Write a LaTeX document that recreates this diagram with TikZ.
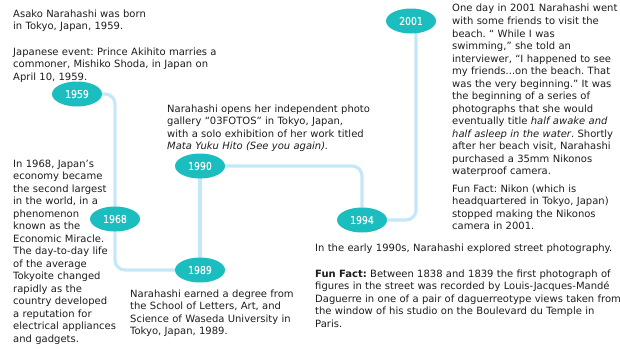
\documentclass[tikz,border=0pt]{standalone}
\usepackage{fontspec}
\setmainfont{DejaVu Sans}
\newfontfamily\yearfont[FakeStretch=0.86,FakeBold=0.6]{DejaVu Sans}
\usetikzlibrary{shapes.geometric,backgrounds}
\definecolor{tealyear}{RGB}{27,189,190}
\definecolor{lineblue}{RGB}{196,232,248}
\definecolor{txt}{RGB}{30,28,29}
\frenchspacing
\begin{document}
\begin{tikzpicture}[x=1pt,y=-1pt,
  year/.style={ellipse, fill=tealyear, minimum width=50pt, minimum height=25pt, inner sep=0pt, text=white, font=\yearfont\fontsize{10.8}{12}\selectfont},
  para/.style={anchor=base west, inner sep=0pt, align=left, text width=310pt, text=txt, font=\fontsize{10}{12.5}\selectfont},
  link/.style={draw=lineblue, line width=3.2pt, rounded corners=10pt}]
\useasboundingbox (0,0) rectangle (620,348);

% year ellipses
\node[year] (y1959) at (77,94) {1959};
\node[year] (y1968) at (115,219) {1968};
\node[year] (y1990) at (200,166) {1990};
\node[year] (y1989) at (200,270) {1989};
\node[year] (y1994) at (362,220) {1994};
\node[year] (y2001) at (411,21) {2001};
\coordinate (c2001) at ([xshift=5pt]y2001.center);

% connectors
\begin{pgfonlayer}{background}
\draw[link] (y1959.center) -| (y1968.center);
\draw[link] (y1968.center) |- (y1989.center);
\draw[link] (y1989.center) -- (y1990.center);
\draw[link] (y1990.center) -| (y1994.center);
\draw[link] (y1994.center) -| (c2001);
\end{pgfonlayer}

% texts
\node[para] (born) at (13,17) {Asako Narahashi was born\\in Tokyo, Japan, 1959.};
\node[para] (event) at (13,55) {Japanese event: Prince Akihito marries a\\commoner, Mishiko Shoda, in Japan on\\April 10, 1959.};
\node[para] (gallery) at (167,112) {Narahashi opens her independent photo\\gallery “03FOTOS” in Tokyo, Japan,\\with a solo exhibition of her work titled\\\textit{Mata Yuku Hito (See you again).}};
\node[para] (econ) at (13,167) {In 1968, Japan’s\\economy became\\the second largest\\in the world, in a\\phenomenon\\known as the\\Economic Miracle.\\The day-to-day life\\of the average\\Tokyoite changed\\rapidly as the\\country developed\\a reputation for\\electrical appliances\\and gadgets.};
\node[para] (degree) at (130,297) {Narahashi earned a degree from\\the School of Letters, Art, and\\Science of Waseda University in\\Tokyo, Japan, 1989.};
\node[para] (beach) at (452,12) {One day in 2001 Narahashi went\\with some friends to visit the\\beach. “ While I was\\swimming,” she told an\\interviewer, “I happened to see\\my friends...on the beach. That\\was the very beginning.” It was\\the beginning of a series of\\photographs that she would\\eventually title \textit{half awake and}\\\textit{half asleep in the water}. Shortly\\after her beach visit, Narahashi\\purchased a 35mm Nikonos\\waterproof camera.};
\node[para] (nikon) at (452,192) {Fun Fact: Nikon (which is\\headquartered in Tokyo, Japan)\\stopped making the Nikonos\\camera in 2001.};
\node[para] (street) at (315,251) {In the early 1990s, Narahashi explored street photography.};
\node[para] (daguerre) at (315,277) {\textbf{Fun Fact:} Between 1838 and 1839 the first photograph of\\figures in the street was recorded by Louis-Jacques-Mandé\\Daguerre in one of a pair of daguerreotype views taken from\\the window of his studio on the Boulevard du Temple in\\Paris.};
\end{tikzpicture}
\end{document}
